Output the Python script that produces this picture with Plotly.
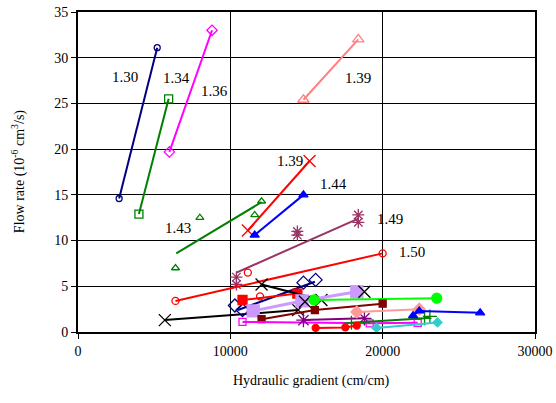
import plotly.graph_objects as go

# ---- data (hydraulic gradient, flow rate) ----
s130_x = [2700, 5200];   s130_y = [14.6, 31.1]
s134_x = [4000, 5950];   s134_y = [12.9, 25.5]
s136_x = [6000, 8800];   s136_y = [19.7, 33.0]
s139a_x = [14800, 18400]; s139a_y = [25.4, 32.0]
s139b_x = [11150, 15200]; s139b_y = [11.1, 18.7]
s144_x = [11600, 14800];  s144_y = [10.6, 15.0]
s143_pts_x = [6400, 8000, 11600, 12050]; s143_pts_y = [7.0, 12.5, 12.8, 14.3]
s143_fit_x = [6450, 12050]; s143_fit_y = [8.6, 14.2]
s149_pts_x = [10400, 10400, 14400, 14400, 18400, 18400]
s149_pts_y = [6.0, 5.2, 11.0, 10.6, 12.8, 12.0]
s149_fit_x = [10400, 18400]; s149_fit_y = [6.5, 12.4]
s150_pts_x = [6400, 11150, 11950, 20000]; s150_pts_y = [3.4, 6.5, 3.9, 8.6]
s150_fit_x = [6400, 20000]; s150_fit_y = [3.4, 8.6]

blkA_x = [12050, 15980]; blkA_y = [5.2, 3.5]
blkB_x = [5700, 14450];  blkB_y = [1.3, 2.4]
blkC_x = [14900, 18800]; blkC_y = [3.3, 4.4]
navy_pts_x = [10300, 10800, 14800, 15600]; navy_pts_y = [2.9, 2.4, 5.4, 5.7]
navy_fit_x = [10500, 15550]; navy_fit_y = [2.4, 5.5]
redsq_x = [10800, 14400]; redsq_y = [3.5, 4.2]
lav_x = [11500, 14700, 18300]; lav_y = [2.3, 3.4, 4.4]
lime_x = [15500, 23550]; lime_y = [3.5, 3.7]
maroon_x = [12050, 15550, 20000]; maroon_y = [1.4, 2.4, 3.1]
mag_x = [10800, 19150, 22300]; mag_y = [1.1, 0.95, 1.0]
purp_x = [14800, 18800]; purp_y = [1.3, 1.5]
redc_x = [15600, 17550, 18300]; redc_y = [0.45, 0.5, 0.7]
salm_x = [18300, 22400]; salm_y = [2.2, 2.5]
blu2_x = [22000, 22400, 26400]; blu2_y = [1.8, 2.3, 2.1]
dgr_x = [17950, 22750, 23100]; dgr_y = [1.0, 1.5, 1.7]
cyan_x = [19600, 23600]; cyan_y = [0.45, 1.05]

labels_text = ["1.30", "1.34", "1.36", "1.39", "1.39", "1.44", "1.43", "1.49", "1.50"]
labels_x = [3100, 6450, 8950, 18350, 13900, 16800, 6550, 20450, 21900]
labels_y = [27.9, 27.8, 26.4, 27.8, 18.7, 16.2, 11.4, 12.4, 8.8]

x_ticks = [0, 10000, 20000, 30000]
x_tick_text = ["0", "10000", "20000", "30000"]

fig = go.Figure()

def add(x, y, color, symbol, size=7, mode="lines+markers", width=2, lw=1.3):
    fig.add_trace(go.Scatter(
        x=x, y=y, mode=mode,
        line=dict(color=color, width=width),
        marker=dict(symbol=symbol, size=size, color=color,
                    line=dict(color=color, width=lw)),
        showlegend=False, hoverinfo="skip"))

add(s130_x, s130_y, "#000080", "circle-open", 6)
add(s134_x, s134_y, "#008000", "square-open", 8)
add(s136_x, s136_y, "#FF00FF", "diamond-open", 8)
add(s139a_x, s139a_y, "#FF8080", "triangle-up-open", 10)
add(s139b_x, s139b_y, "#FF0000", "x-thin-open", 12)
add(s144_x, s144_y, "#0000FF", "triangle-up", 8)
add(s143_fit_x, s143_fit_y, "#008000", "circle", 1, mode="lines")
add(s143_pts_x, s143_pts_y, "#008000", "triangle-up-open", 7, mode="markers")
add(s149_fit_x, s149_fit_y, "#993366", "circle", 1, mode="lines")
add(s149_pts_x, s149_pts_y, "#993366", "asterisk-open", 10, mode="markers")
add(s150_fit_x, s150_fit_y, "#FF0000", "circle", 1, mode="lines")
add(s150_pts_x, s150_pts_y, "#FF0000", "circle-open", 7, mode="markers")

add(blkB_x, blkB_y, "#000000", "x-thin-open", 12)
add(navy_fit_x, navy_fit_y, "#000080", "circle", 1, mode="lines")
add(navy_pts_x, navy_pts_y, "#000080", "diamond-open", 10, mode="markers")
add(redsq_x, redsq_y, "#FF0000", "square", 9)
add(blkA_x, blkA_y, "#000000", "x-thin-open", 12)
add(lav_x, lav_y, "#CC99FF", "square", 12, width=3)
add(blkC_x, blkC_y, "#000000", "x-thin-open", 12, mode="markers")
add(lime_x, lime_y, "#00FF00", "circle", 10)
add(maroon_x, maroon_y, "#800000", "square", 7)
add(mag_x, mag_y, "#FF00FF", "square-open", 7)
add(purp_x, purp_y, "#800080", "asterisk-open", 12)
add(salm_x, salm_y, "#FF9999", "diamond", 9)
add(dgr_x, dgr_y, "#008000", "cross-thin-open", 10)
add(blu2_x, blu2_y, "#0000FF", "triangle-up", 8)
add(cyan_x, cyan_y, "#33CCCC", "diamond", 7)
add(redc_x, redc_y, "#FF0000", "circle", 7)

for t, x, y in zip(labels_text, labels_x, labels_y):
    fig.add_annotation(x=x, y=y, text=t, showarrow=False,
                       font=dict(family="Liberation Serif", size=15, color="#000000"))

# axis titles placed in paper coordinates
fig.add_annotation(xref="paper", yref="paper", x=0.512, y=-0.153,
                   xanchor="center", yanchor="middle",
                   text="Hydraulic gradient (cm/cm)", showarrow=False,
                   font=dict(family="Liberation Serif", size=14, color="#000000"))
fig.add_annotation(xref="paper", yref="paper", x=-0.131, y=0.5, textangle=-90,
                   xanchor="center", yanchor="middle",
                   text="Flow rate (10<sup>-6</sup> cm<sup>3</sup>/s)", showarrow=False,
                   font=dict(family="Liberation Serif", size=14, color="#000000"))

fig.update_layout(
    width=556, height=403,
    margin=dict(l=78, r=21, t=12, b=71),
    paper_bgcolor="white", plot_bgcolor="white",
    font=dict(family="Liberation Serif", size=14, color="#000000"),
    xaxis=dict(range=[0, 30000], tickvals=x_ticks, ticktext=x_tick_text,
               showgrid=True, gridcolor="#000000", gridwidth=1,
               showline=True, linecolor="#000000", linewidth=2, mirror=True,
               ticks="outside", ticklen=5, tickcolor="#000000",
               zeroline=False, automargin=False,
               tickfont=dict(family="Liberation Serif", size=14)),
    yaxis=dict(range=[0, 35], dtick=5,
               showgrid=True, gridcolor="#000000", gridwidth=1,
               showline=True, linecolor="#000000", linewidth=2, mirror=True,
               ticks="outside", ticklen=5, tickcolor="#000000",
               zeroline=False, automargin=False,
               tickfont=dict(family="Liberation Serif", size=14)),
)

fig.write_html("out.html", config={"displayModeBar": False},
               post_script="document.body.style.margin='0';document.body.style.padding='0';")
